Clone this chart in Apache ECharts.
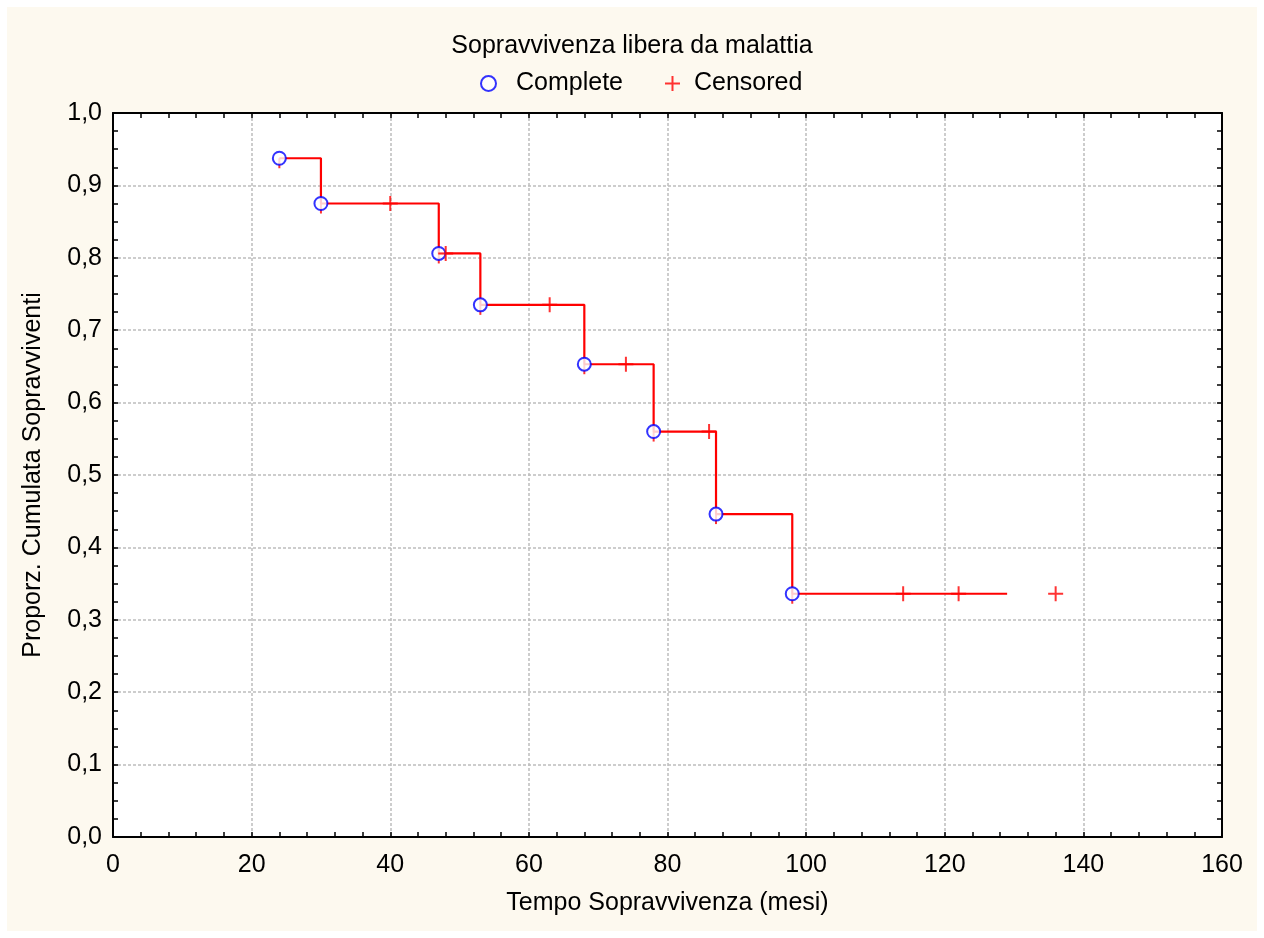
<!DOCTYPE html>
<html>
<head>
<meta charset="utf-8">
<script src="https://cdn.jsdelivr.net/npm/echarts@6/dist/echarts.min.js"></script>
<style>
  html, body { margin: 0; padding: 0; background: #ffffff; }
  #chart { position: absolute; left: 7px; top: 7px; width: 1250px; height: 924px; }
</style>
</head>
<body>
<div id="chart"></div>
<script>
// tempi degli eventi (Complete) e proporzione cumulata
var eventTimes = [24, 30, 47, 53, 68, 78, 87, 98];
var eventSurv = [0.9375, 0.875, 0.806, 0.735, 0.653, 0.560, 0.446, 0.336];
// tempi censurati
var censorTimes = [40, 48, 63, 74, 86, 114, 122, 136];
var censorSurv = [0.875, 0.806, 0.735, 0.653, 0.560, 0.336, 0.336, 0.336];
// fine della curva
var curveEnd = [129, 0.336];

var FONT = 'Liberation Sans';
var FS = 25;
var plusPath = 'path://M6.5,0h2v15h-2zM0,6.5h15v2h-15z';
var tickPath = 'path://M0,0h2v10h-2z';

function $each(arr, fn) {
  for (var i = 0; i < arr.length; i++) fn(i, arr[i]);
}

var stepData = [], completeData = [], censorData = [];
$each(eventTimes, function(i, t) {
  stepData.push([t, eventSurv[i]]);
  completeData.push([t, eventSurv[i]]);
});
stepData.push(curveEnd);
$each(censorTimes, function(i, t) {
  censorData.push([t, censorSurv[i]]);
});

function baseAxis(extra) {
  var a = {
    type: 'value',
    axisLine: { show: true, onZero: false, lineStyle: { color: '#000', width: 2 } },
    axisTick: { show: true, inside: true, length: 5, lineStyle: { color: '#000', width: 1.5 } },
    splitLine: { show: false },
    axisLabel: { show: false }
  };
  for (var k in extra) a[k] = extra[k];
  return a;
}

var option = {
  backgroundColor: '#fdf9ef',
  animation: false,
  title: {
    text: 'Sopravvivenza libera da malattia',
    left: 'center',
    top: 22,
    textStyle: { fontFamily: FONT, fontSize: FS, fontWeight: 'normal', color: '#000' }
  },
  legend: {
    top: 59,
    left: 468,
    itemGap: 42,
    itemWidth: 15,
    itemHeight: 15,
    textStyle: { fontFamily: FONT, fontSize: FS, color: '#000', padding: [0, 0, 0, 15] },
    data: [
      { name: 'Complete', icon: 'emptyCircle' },
      { name: 'Censored', icon: plusPath, textStyle: { padding: [0, 0, 0, 9] } }
    ]
  },
  grid: {
    left: 106, top: 106, right: 35, bottom: 94,
    show: true, backgroundColor: '#ffffff', borderWidth: 0
  },
  xAxis: [
    baseAxis({
      min: 0, max: 160, interval: 20, position: 'bottom',
      minorTick: { show: true, splitNumber: 5, length: 5, lineStyle: { color: '#000', width: 1.5 } },
      splitLine: { show: true, lineStyle: { color: '#bdbdbd', width: 1.5, type: [3, 2] } },
      axisLabel: { show: true, margin: 16, fontFamily: FONT, fontSize: FS, color: '#000' },
      name: 'Tempo Sopravvivenza (mesi)',
      nameLocation: 'middle',
      nameGap: 54,
      nameTextStyle: { fontFamily: FONT, fontSize: FS, color: '#000' }
    }),
    baseAxis({
      min: 0, max: 160, interval: 20, position: 'top',
      minorTick: { show: true, splitNumber: 5, length: 5, lineStyle: { color: '#000', width: 1.5 } }
    })
  ],
  yAxis: [
    baseAxis({
      min: 0, max: 1, interval: 0.1, position: 'left',
      minorTick: { show: true, splitNumber: 4, length: 5, lineStyle: { color: '#000', width: 1.5 } },
      splitLine: { show: true, lineStyle: { color: '#bdbdbd', width: 1.5, type: [3, 2] } },
      axisLabel: {
        show: true, margin: 11, fontFamily: FONT, fontSize: FS, color: '#000',
        formatter: function(v) { return v.toFixed(1).replace('.', ','); }
      },
      name: 'Proporz. Cumulata Sopravviventi',
      nameLocation: 'middle',
      nameGap: 67,
      nameTextStyle: { fontFamily: FONT, fontSize: FS, color: '#000' }
    }),
    baseAxis({
      min: 0, max: 1, interval: 0.1, position: 'right',
      minorTick: { show: true, splitNumber: 4, length: 5, lineStyle: { color: '#000', width: 1.5 } }
    })
  ],
  series: [
    {
      name: 'curva',
      type: 'line',
      step: 'end',
      showSymbol: false,
      symbol: 'none',
      lineStyle: { color: '#ff0000', width: 2.2 },
      data: stepData,
      z: 2
    },
    {
      // piccolo segno rosso sotto i cerchi
      name: 'sotto',
      type: 'scatter',
      symbol: tickPath,
      symbolSize: [2, 10],
      symbolOffset: [0, 5],
      itemStyle: { color: '#ff0000' },
      data: completeData,
      z: 3
    },
    {
      name: 'Complete',
      type: 'scatter',
      symbol: 'emptyCircle',
      symbolSize: 13,
      itemStyle: { color: '#0000ff', borderWidth: 2.6 },
      data: completeData,
      z: 4
    },
    {
      name: 'Censored',
      type: 'scatter',
      symbol: plusPath,
      symbolSize: 15,
      itemStyle: { color: '#ff0000' },
      data: censorData,
      z: 4
    }
  ]
};

var myChart = echarts.init(document.getElementById('chart'));
myChart.setOption(option);
</script>
</body>
</html>
